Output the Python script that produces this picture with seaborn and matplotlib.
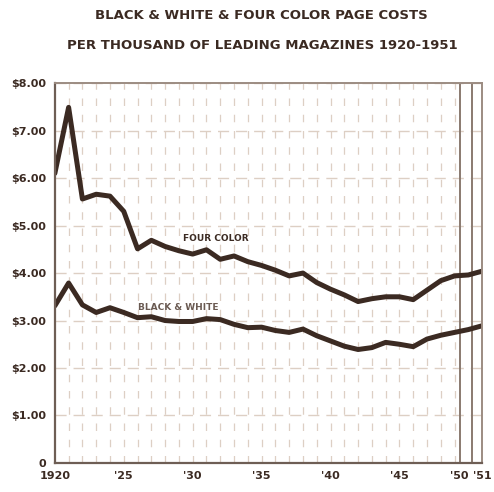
import pandas as pd
import matplotlib.pyplot as plt
import seaborn as sns

# valori (dollari per mille copie)
years = list(range(1920, 1952))
four_color = [6.10, 7.49, 5.56, 5.66, 5.62, 5.30, 4.51, 4.69, 4.56, 4.47, 4.40, 4.49,
              4.29, 4.36, 4.24, 4.16, 4.06, 3.94, 4.00, 3.80, 3.66, 3.54, 3.40, 3.46,
              3.50, 3.50, 3.44, 3.64, 3.84, 3.94, 3.96, 4.04]
black_white = [3.31, 3.79, 3.33, 3.17, 3.27, 3.17, 3.06, 3.08, 3.00, 2.98, 2.98, 3.04,
               3.02, 2.92, 2.85, 2.86, 2.79, 2.75, 2.82, 2.68, 2.57, 2.46, 2.39, 2.43,
               2.54, 2.50, 2.45, 2.61, 2.69, 2.75, 2.81, 2.89]
y_ticks = [0, 1, 2, 3, 4, 5, 6, 7, 8]
y_labels = ["0", "$1.00", "$2.00", "$3.00", "$4.00", "$5.00", "$6.00", "$7.00", "$8.00"]
x_ticks = [1920, 1925, 1930, 1935, 1940, 1945, 1950, 1951]
x_labels = ["1920", "'25", "'30", "'35", "'40", "'45", "'50", "'51"]

df = pd.DataFrame({
    "year": years * 2,
    "cost": four_color + black_white,
    "serie": ["FOUR COLOR"] * len(years) + ["BLACK & WHITE"] * len(years),
})

sns.set_style("white")
plt.rcParams['font.family'] = ['DejaVu Sans']

ink = "#3b2a22"
grid = "#ddcfc4"

fig = plt.figure(figsize=(4.94, 4.92), dpi=100)
ax = fig.add_axes([0.111, 0.059, 0.865, 0.772])

# griglia tratteggiata
for y in y_ticks[1:]:
    ax.axhline(y, color=grid, lw=1.0, ls=(0, (8, 5)), zorder=0)
for x in years[1:-2]:
    ax.axvline(x, color=grid, lw=0.9, ls=(0, (6, 7)), zorder=0)
for x in [1949.4, 1950.3]:
    ax.axvline(x, color="#8a7a70", lw=1.4, zorder=0)

sns.lineplot(data=df, x="year", y="cost", hue="serie",
             palette={"FOUR COLOR": ink, "BLACK & WHITE": ink},
             linewidth=3.6, legend=False, ax=ax)

ax.text(1929.3, 4.68, "FOUR COLOR", fontsize=6.5, fontweight="bold", color=ink)
ax.text(1926.0, 3.23, "BLACK & WHITE", fontsize=6.5, fontweight="bold", color="#6a5a52")

ax.set_xlim(1920, 1951)
ax.set_ylim(0, 8)
ax.set_xticks(x_ticks)
ax.set_xticklabels(x_labels)
ax.set_yticks(y_ticks)
ax.set_yticklabels(y_labels)
ax.tick_params(length=0, labelsize=8, colors=ink, pad=6)
for lab in ax.get_xticklabels() + ax.get_yticklabels():
    lab.set_fontweight("bold")
xl = ax.get_xticklabels()
xl[-2].set_horizontalalignment("right")
ax.set_xlabel("")
ax.set_ylabel("")

for side in ["left", "bottom"]:
    ax.spines[side].set_color("#6e5e55")
    ax.spines[side].set_linewidth(1.6)
for side in ["top", "right"]:
    ax.spines[side].set_color("#9c8c82")
    ax.spines[side].set_linewidth(1.4)

fig.text(0.53, 0.968, "BLACK & WHITE & FOUR COLOR PAGE COSTS", ha="center", va="center",
         fontsize=9.5, fontweight="bold", color=ink)
fig.text(0.53, 0.907, "PER THOUSAND OF LEADING MAGAZINES 1920-1951", ha="center", va="center",
         fontsize=9.5, fontweight="bold", color=ink)

fig.savefig("out.png", dpi=100)
